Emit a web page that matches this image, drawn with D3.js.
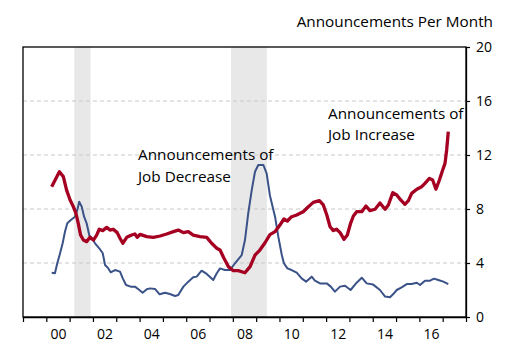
<!DOCTYPE html>
<html>
<head>
<meta charset="utf-8">
<script src="https://cdn.jsdelivr.net/npm/d3@7"></script>
<style>
  body { margin: 0; background: #fff; }
  svg { display: block; font-family: "Open Sans", sans-serif; }
</style>
</head>
<body>
<svg id="chart" width="530" height="361"></svg>
<script>
// ---- Data (decimal years) ----
const increaseYears = [2000.23,2000.56,2000.73,2000.87,2001.02,2001.16,2001.27,2001.37,2001.47,2001.59,2001.73,2001.87,2002.02,2002.16,2002.27,2002.42,2002.59,2002.73,2002.87,2003.04,2003.16,2003.28,2003.45,2003.66,2003.80,2003.90,2004.02,2004.31,2004.59,2004.88,2005.16,2005.45,2005.66,2005.88,2006.09,2006.30,2006.59,2006.88,2007.09,2007.31,2007.45,2007.62,2007.81,2008.02,2008.23,2008.52,2008.74,2008.95,2009.16,2009.38,2009.59,2009.81,2010.02,2010.19,2010.34,2010.52,2010.74,2010.88,2011.02,2011.24,2011.45,2011.71,2011.88,2012.03,2012.17,2012.31,2012.45,2012.60,2012.77,2012.91,2013.05,2013.17,2013.31,2013.53,2013.71,2013.88,2014.10,2014.31,2014.53,2014.67,2014.86,2015.03,2015.20,2015.38,2015.53,2015.67,2015.89,2016.10,2016.24,2016.43,2016.57,2016.71,2016.86,2017.00,2017.10,2017.17,2017.24];
const increaseValues = [9.65,10.76,10.4,9.4,8.67,8.17,7.68,6.94,6.07,5.7,5.58,5.9,5.7,6.07,6.5,6.4,6.64,6.44,6.5,6.25,5.83,5.46,5.9,6.07,6.15,5.9,6.12,5.95,5.9,6.0,6.15,6.32,6.44,6.25,6.32,6.07,5.95,5.9,5.46,5.09,4.96,4.35,3.73,3.43,3.43,3.28,3.73,4.59,4.96,5.5,6.1,6.32,6.81,7.26,7.11,7.43,7.56,7.68,7.8,8.17,8.49,8.62,8.3,7.56,6.69,6.4,6.5,6.25,5.75,6.07,6.94,7.48,7.8,7.8,8.22,7.88,7.98,8.45,7.98,8.3,9.21,9.04,8.67,8.35,8.62,9.16,9.46,9.65,9.9,10.27,10.15,9.46,10.15,10.89,11.38,12.37,13.73];

const decreaseYears = [2000.23,2000.37,2000.47,2000.59,2000.70,2000.80,2000.90,2001.05,2001.23,2001.33,2001.41,2001.52,2001.62,2001.73,2001.84,2001.95,2002.09,2002.27,2002.42,2002.52,2002.66,2002.76,2002.95,2003.16,2003.28,2003.42,2003.62,2003.80,2003.95,2004.13,2004.31,2004.45,2004.66,2004.86,2005.09,2005.30,2005.52,2005.66,2005.88,2006.09,2006.30,2006.45,2006.66,2006.88,2007.16,2007.31,2007.45,2007.66,2007.88,2008.09,2008.38,2008.52,2008.66,2008.81,2008.95,2009.09,2009.31,2009.45,2009.59,2009.81,2009.95,2010.10,2010.19,2010.34,2010.52,2010.74,2010.95,2011.14,2011.38,2011.52,2011.74,2012.03,2012.20,2012.38,2012.60,2012.81,2013.05,2013.31,2013.53,2013.74,2014.02,2014.31,2014.53,2014.74,2014.88,2015.03,2015.24,2015.46,2015.67,2015.89,2016.03,2016.24,2016.46,2016.63,2016.81,2017.03,2017.24];
const decreaseValues = [3.28,3.24,3.98,4.72,5.46,6.32,6.94,7.19,7.43,7.93,8.54,8.17,7.43,6.94,6.07,5.83,5.46,5.09,4.72,3.85,3.6,3.31,3.48,3.36,2.86,2.37,2.25,2.25,2.05,1.8,2.05,2.12,2.08,1.68,1.8,1.7,1.56,1.63,2.25,2.62,2.94,2.99,3.43,3.19,2.74,3.24,3.6,3.48,3.48,3.98,4.59,5.7,7.68,9.4,10.76,11.26,11.26,10.64,9.0,7.43,5.95,4.59,3.98,3.6,3.48,3.28,2.86,2.62,2.99,2.69,2.49,2.49,2.25,1.88,2.25,2.32,2.0,2.54,2.91,2.49,2.4,2.0,1.51,1.46,1.7,2.0,2.2,2.44,2.44,2.54,2.37,2.69,2.69,2.84,2.74,2.62,2.44];

const recessions = [[2001.2, 2001.9], [2007.92, 2009.46]];
const yTicks = [0, 4, 8, 12, 16, 20];
const gridTicks = [4, 8, 12, 16];
const yearTicks = d3.range(1999, 2019);
const labelYears = [2000, 2002, 2004, 2006, 2008, 2010, 2012, 2014, 2016];

// ---- Layout ----
const svg = d3.select("#chart");
const L = 23, R = 466, T = 47, B = 317;
const x = d3.scaleLinear().domain([1999, 2018]).range([L, R]);
const y = d3.scaleLinear().domain([0, 20]).range([B, T]);

// recession shading
svg.append("g").selectAll("rect").data(recessions).join("rect")
  .attr("x", d => x(d[0])).attr("y", T)
  .attr("width", d => x(d[1]) - x(d[0])).attr("height", B - T)
  .attr("fill", "#e8e8e8");

// gridlines
svg.append("g").selectAll("line").data(gridTicks).join("line")
  .attr("x1", L).attr("x2", R)
  .attr("y1", d => y(d)).attr("y2", d => y(d))
  .attr("stroke", "#c8c8c8").attr("stroke-dasharray", "4,3").attr("stroke-width", 1);

// lines
const line = d3.line().x(d => x(d[0])).y(d => y(d[1]));
const dec = decreaseYears.map((t, i) => [t, decreaseValues[i]]);
const inc = increaseYears.map((t, i) => [t, increaseValues[i]]);
svg.append("path").datum(dec).attr("d", line)
  .attr("fill", "none").attr("stroke", "#3a5288").attr("stroke-width", 2).attr("stroke-linejoin", "round");
svg.append("path").datum(inc).attr("d", line)
  .attr("fill", "none").attr("stroke", "#a50021").attr("stroke-width", 3.3).attr("stroke-linejoin", "round");

// frame
svg.append("rect").attr("x", L).attr("y", T).attr("width", R - L).attr("height", B - T)
  .attr("fill", "none").attr("stroke", "#000").attr("stroke-width", 1.3);

// bottom axis ticks
const xAxis = svg.append("g").attr("transform", `translate(0,${B})`)
  .call(d3.axisBottom(x).tickValues(yearTicks).tickSize(5).tickFormat("").tickSizeOuter(0));
xAxis.select(".domain").attr("stroke", "#000").attr("stroke-width", 1.3);
xAxis.selectAll(".tick line").attr("stroke", "#000").attr("stroke-width", 1.2);

// bottom labels (centered mid-year)
const xLab = svg.append("g").attr("transform", `translate(0,${B})`)
  .call(d3.axisBottom(x).tickValues(labelYears.map(d => d + 0.5)).tickSize(0)
    .tickFormat(d => String(Math.floor(d) % 100).padStart(2, "0")));
xLab.select(".domain").remove();
xLab.selectAll("text").attr("font-family", "Open Sans").attr("font-size", 14)
  .attr("fill", "#000").attr("dy", 0).attr("y", 22);

// right axis
const yAxis = svg.append("g").attr("transform", `translate(${R},0)`)
  .call(d3.axisRight(y).tickValues(yTicks).tickSize(4).tickSizeOuter(0).tickPadding(6));
yAxis.select(".domain").attr("stroke", "#000").attr("stroke-width", 1.3);
yAxis.selectAll(".tick line").attr("stroke", "#000").attr("stroke-width", 1.2);
yAxis.selectAll("text").attr("font-family", "Open Sans").attr("font-size", 14).attr("fill", "#000");

// titles / annotations
svg.append("text").attr("x", 493).attr("y", 27).attr("text-anchor", "end")
  .attr("font-size", 15.3).attr("fill", "#000").text("Announcements Per Month");

const ann = [
  { x: 138, y: 160, t: "Announcements of" },
  { x: 138, y: 182, t: "Job Decrease" },
  { x: 328, y: 119, t: "Announcements of" },
  { x: 328, y: 140, t: "Job Increase" }
];
svg.append("g").selectAll("text").data(ann).join("text")
  .attr("x", d => d.x).attr("y", d => d.y).attr("font-size", 15.3).attr("fill", "#000")
  .text(d => d.t);
</script>
</body>
</html>
